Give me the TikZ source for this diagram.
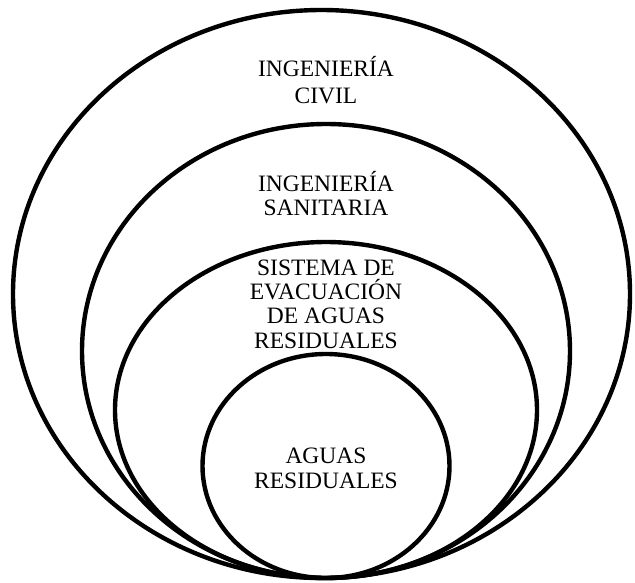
\documentclass[tikz,border=0pt]{standalone}
\usepackage{fontspec}
\setmainfont{Liberation Serif}
\usetikzlibrary{shapes.geometric}
\begin{document}
\begin{tikzpicture}[x=1pt,y=-1pt,
  ring/.style={draw=black, line width=4.4pt, ellipse, inner sep=0pt, outer sep=0pt},
  lbl/.style={align=center, inner sep=0pt, anchor=base}]
\useasboundingbox (0,0) rectangle (635,582);
\node[ring, minimum width=617pt, minimum height=568pt] (civil) at (321.5,294) {};
\node[ring, minimum width=488pt, minimum height=454pt] (sanitaria) at (326,351) {};
\node[ring, minimum width=422pt, minimum height=336pt] (sistema) at (326,410) {};
\node[ring, minimum width=247pt, minimum height=224pt] (aguas) at (326,466) {};
\node[lbl, font=\fontsize{23.5}{27}\selectfont] (tcivil) at (326,103) {INGENIERÍA\\CIVIL};
\node[lbl, font=\fontsize{23.5}{23.5}\selectfont] (tsanitaria) at (326,215) {INGENIERÍA\\SANITARIA};
\node[lbl, font=\fontsize{23.5}{24.3}\selectfont] (tsistema) at (326,348) {SISTEMA DE\\EVACUACIÓN\\DE AGUAS\\RESIDUALES};
\node[lbl, font=\fontsize{23.5}{25}\selectfont] (taguas) at (326,488) {AGUAS\\RESIDUALES};
\end{tikzpicture}
\end{document}
